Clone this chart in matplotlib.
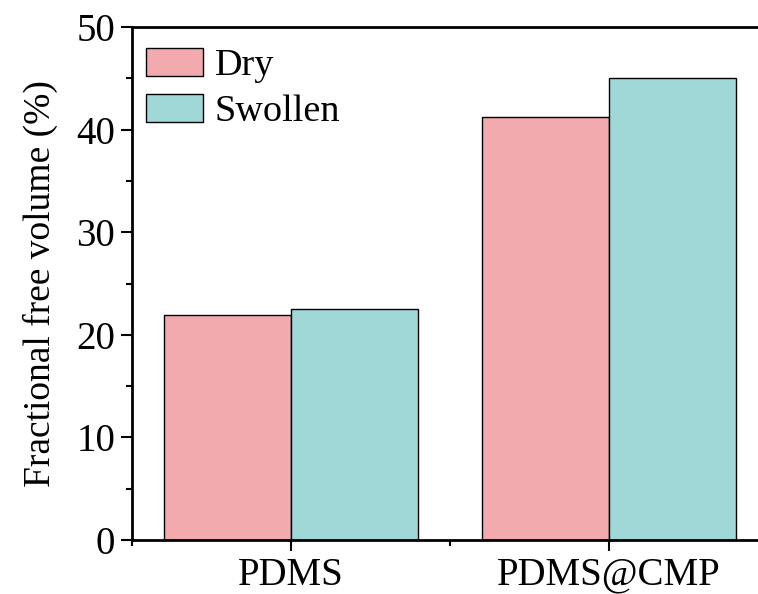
import numpy as np
import matplotlib.pyplot as plt
from matplotlib.ticker import MultipleLocator, FixedLocator

categories = ["PDMS", "PDMS@CMP"]
dry = [21.9, 41.2]
swollen = [22.5, 45.0]
series_names = ["Dry", "Swollen"]

plt.rcParams["font.family"] = ["Liberation Serif", "DejaVu Serif"]
plt.rcParams["font.size"] = 28

fig = plt.figure(figsize=(7.58, 5.94), dpi=100)
ax = fig.add_axes([0.1741, 0.0909, 0.839, 0.8636])

x = np.arange(len(categories))
width = 0.4
ax.bar(x - width / 2, dry, width, color="#F2AAAF", edgecolor="black", linewidth=1, label=series_names[0])
ax.bar(x + width / 2, swollen, width, color="#A0D8D8", edgecolor="black", linewidth=1, label=series_names[1])

ax.set_xlim(-0.5, 1.5)
ax.set_ylim(0, 50)
ax.set_xticks(x)
ax.set_xticklabels(categories)
ax.xaxis.set_minor_locator(FixedLocator([-0.5, 0.5, 1.5]))
ax.yaxis.set_major_locator(MultipleLocator(10))
ax.yaxis.set_minor_locator(MultipleLocator(5))
ax.tick_params(axis="both", direction="out", length=8, width=1.5, labelsize=28)
ax.tick_params(axis="both", which="minor", direction="out", length=4.5, width=1.5)
ax.tick_params(axis="x", pad=4)
ax.tick_params(axis="y", pad=4)

for side in ["left", "bottom", "top"]:
    ax.spines[side].set_linewidth(2)
ax.spines["right"].set_visible(False)

ax.set_ylabel("Fractional free volume (%)", fontsize=27, labelpad=13)

# nudge legend to sit where the original one is
ax.legend(loc="upper left", bbox_to_anchor=(-0.014, 1.004), frameon=False, fontsize=27.5,
          handlelength=1.5, handleheight=0.75, handletextpad=0.3, labelspacing=0.28,
          borderaxespad=0.45, borderpad=0.15)

fig.savefig("out.png", dpi=100)
